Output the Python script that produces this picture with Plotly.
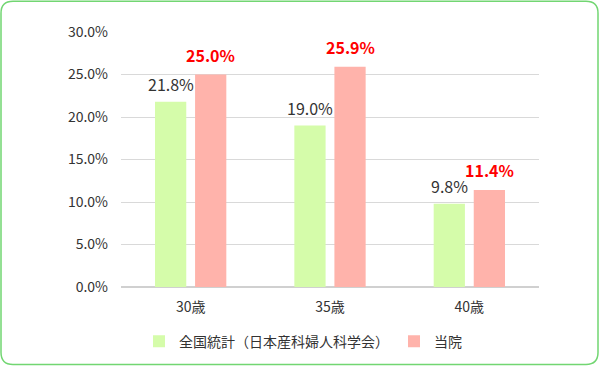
import plotly.graph_objects as go

categories = ["30歳", "35歳", "40歳"]
national = [21.8, 19.0, 9.8]
clinic = [25.0, 25.9, 11.4]
series_names = ["全国統計（日本産科婦人科学会）", "当院"]
y_ticks = [0, 5, 10, 15, 20, 25, 30]

GREEN = "#d5fcaa"
PINK = "#ffb3ab"
TEXT = "#333333"
FONT = "Noto Sans CJK JP"

W, H = 600, 370
ML, MR, MT, MB = 121, 61, 32, 81
PW, PH = W - ML - MR, H - MT - MB


def px(x):
    return (x - ML) / PW


def py(y):
    return (H - MB - y) / PH


fig = go.Figure()
fig.add_trace(go.Bar(x=categories, y=national, name=series_names[0],
                     marker=dict(color=GREEN, line=dict(width=0))))
fig.add_trace(go.Bar(x=categories, y=clinic, name=series_names[1],
                     marker=dict(color=PINK, line=dict(width=0))))

# data labels
for c, v in zip(categories, national):
    fig.add_annotation(x=c, y=v, xshift=-20, yshift=4, yanchor="bottom",
                       text=f"{v:.1f}%", showarrow=False,
                       font=dict(family=FONT, size=16, color=TEXT))
for c, v in zip(categories, clinic):
    fig.add_annotation(x=c, y=v, xshift=20, yshift=6, yanchor="bottom",
                       text=f"<b>{v:.1f}%</b>", showarrow=False,
                       font=dict(family=FONT, size=16, color="#ff0000"))

# rounded border
x0, x1, y0, y1, r = 1, 598, 1, 367, 12
def P(x, y):
    return f"{px(x):.5f},{py(y):.5f}"
path = (f"M {P(x0 + r, y0)} L {P(x1 - r, y0)} Q {P(x1, y0)} {P(x1, y0 + r)} "
        f"L {P(x1, y1 - r)} Q {P(x1, y1)} {P(x1 - r, y1)} "
        f"L {P(x0 + r, y1)} Q {P(x0, y1)} {P(x0, y1 - r)} "
        f"L {P(x0, y0 + r)} Q {P(x0, y0)} {P(x0 + r, y0)} Z")
fig.add_shape(type="path", xref="paper", yref="paper", path=path,
              line=dict(color="#72d672", width=1.5), layer="below")

fig.update_layout(
    width=W, height=H,
    margin=dict(l=ML, r=MR, t=MT, b=MB, pad=0),
    paper_bgcolor="white", plot_bgcolor="white",
    barmode="group", bargap=0.425, bargroupgap=0.22,
    font=dict(family=FONT, color=TEXT, size=13),
    showlegend=True,
    legend=dict(orientation="h", x=px(139), xanchor="left",
                y=py(344), yanchor="middle",
                font=dict(family=FONT, size=14, color=TEXT),
                itemclick=False, itemdoubleclick=False),
    xaxis=dict(showgrid=False, showline=False, ticks="",
               ticklabelstandoff=10,
               tickfont=dict(family=FONT, size=14, color=TEXT)),
    yaxis=dict(range=[0, 30], tickvals=y_ticks,
               ticktext=[f"{t:.1f}%" for t in y_ticks],
               showgrid=True, gridcolor="#d9d9d9", gridwidth=1,
               zeroline=True, zerolinecolor="#d0d0d0", zerolinewidth=1.5,
               showline=False, ticks="", ticklabelstandoff=12,
               tickfont=dict(family=FONT, size=14, color=TEXT)),
)

fig.write_html("out.html",
               config={"displayModeBar": False},
               post_script="document.body.style.margin='0px';document.body.style.overflow='hidden';")
